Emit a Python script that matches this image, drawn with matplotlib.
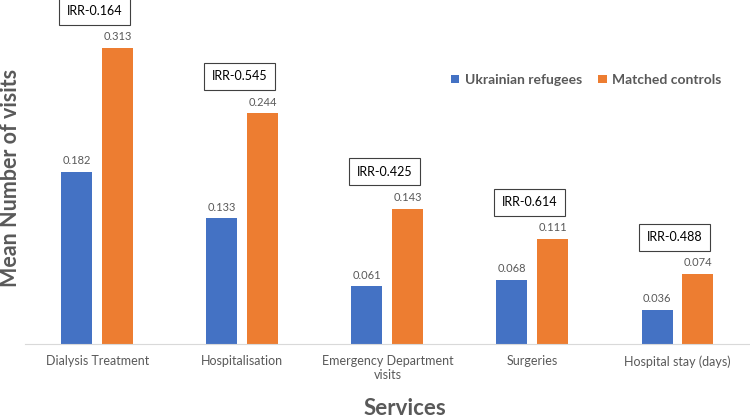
import numpy as np
import matplotlib
matplotlib.use("Agg")
import matplotlib.pyplot as plt

plt.rcParams['font.family'] = ['Lato', 'DejaVu Sans']

categories = ['Dialysis Treatment', 'Hospitalisation', 'Emergency Department\nvisits',
              'Surgeries', 'Hospital stay (days)']
refugees = [0.182, 0.133, 0.061, 0.068, 0.036]
controls = [0.313, 0.244, 0.143, 0.111, 0.074]
irr_labels = ['IRR-0.164', 'IRR-0.545', 'IRR-0.425', 'IRR-0.614', 'IRR-0.488']

blue = '#4472C4'
orange = '#ED7D31'
grey = '#595959'

fig = plt.figure(figsize=(7.5, 4.19), dpi=100)
ax = fig.add_axes([0.033, 0.179, 0.967, 0.8125])

x = np.arange(len(categories))
w = 0.214
off = 0.141
b1 = ax.bar(x - off, refugees, w, color=blue, label='Ukrainian refugees')
b2 = ax.bar(x + off, controls, w, color=orange, label='Matched controls')

for bars, vals in ((b1, refugees), (b2, controls)):
    for b, v in zip(bars, vals):
        ax.text(b.get_x() + b.get_width() / 2, v + 0.006, f'{v:.3f}',
                ha='center', va='bottom', fontsize=8, color=grey)

for i, lab in enumerate(irr_labels):
    ax.text(x[i] - 0.02, controls[i] + 0.039, lab, ha='center', va='center',
            fontsize=9, color='black',
            bbox=dict(boxstyle='square,pad=0.6', fc='white', ec='#404040', lw=0.8))

ax.set_xlim(-0.5, 4.5)
ax.set_ylim(0, 0.36)
ax.set_xticks(x)
ax.set_xticklabels(categories, fontsize=9, color=grey)
ax.tick_params(axis='x', length=0, pad=8)
ax.set_yticks([])
for s in ['top', 'right', 'left']:
    ax.spines[s].set_visible(False)
ax.spines['bottom'].set_color('#d9d9d9')

leg = ax.legend(loc='upper left', bbox_to_anchor=(0.57, 0.83), ncol=2, frameon=False,
                handlelength=0.6, handleheight=0.6, handletextpad=0.4, columnspacing=1.2,
                prop={'weight': 'bold', 'size': 10})
for t in leg.get_texts():
    t.set_color(grey)

fig.text(0.014, 0.575, 'Mean Number of visits', rotation=90, ha='center', va='center',
         fontsize=15.5, fontweight='bold', color=grey)
fig.text(0.54, 0.026, 'Services', ha='center', va='center',
         fontsize=16, fontweight='bold', color=grey)

fig.savefig('out.png', dpi=100)
